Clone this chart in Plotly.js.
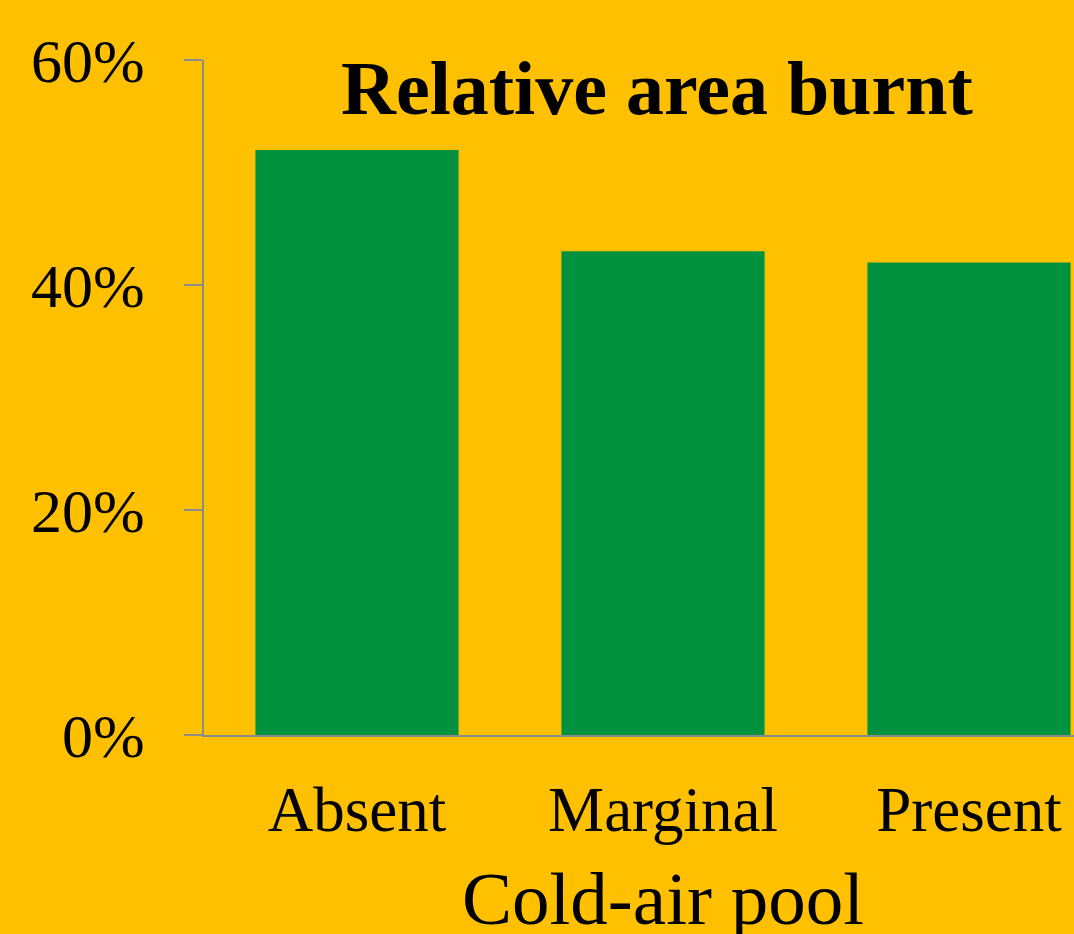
<!DOCTYPE html>
<html>
<head>
<meta charset="utf-8">
<script src="https://cdn.plot.ly/plotly-3.0.1.min.js"></script>
<style>
html,body{margin:0;padding:0;overflow:hidden;background:#FFC000;}
#chart{width:1122px;height:950px;}
</style>
</head>
<body>
<div id="chart"></div>
<script>
const categories = ["Absent", "Marginal", "Present"];
const areaBurnt = [0.52, 0.43, 0.42];
const yTicks = [0, 0.2, 0.4, 0.6];
const yTickLabels = ["0%", "20%", "40%", "60%"];
const xAxisTitle = "Cold-air pool";

const font = "'Liberation Serif', 'Times New Roman', serif";

Plotly.newPlot("chart", [{
  type: "bar",
  x: categories,
  y: areaBurnt,
  marker: {color: "#00923F"},
  hoverinfo: "none"
}], {
  width: 1122,
  height: 950,
  paper_bgcolor: "#FFC000",
  plot_bgcolor: "#FFC000",
  margin: {l: 204, r: 0, t: 60, b: 215, pad: 0},
  bargap: 0.336,
  showlegend: false,
  title: {
    text: "<b>Relative area burnt</b>",
    font: {family: font, size: 76, color: "#000"},
    x: 657/1122, xref: "container", xanchor: "center",
    y: 1 - 86.9/950, yref: "container", yanchor: "middle"
  },
  annotations: [{
    text: xAxisTitle, showarrow: false,
    xref: "paper", yref: "paper", x: 0.5, y: 0,
    xanchor: "center", yanchor: "top", yshift: -120,
    font: {family: font, size: 75, color: "#000"}
  }],
  xaxis: {
    type: "category",
    range: [-0.5, 2.5],
    showline: true, linecolor: "#8C8C8C", linewidth: 2,
    ticks: "", showgrid: false, zeroline: false,
    tickfont: {family: font, size: 63, color: "#000"},
    ticklabelstandoff: 18
  },
  yaxis: {
    range: [0, 0.6],
    tickvals: yTicks, ticktext: yTickLabels,
    showline: true, linecolor: "#8C8C8C", linewidth: 2,
    ticks: "outside", ticklen: 18, tickwidth: 2, tickcolor: "#8C8C8C",
    showgrid: false, zeroline: false,
    tickfont: {family: font, size: 62, color: "#000"},
    ticklabelstandoff: 27
  }
}, {staticPlot: true});
</script>
</body>
</html>
